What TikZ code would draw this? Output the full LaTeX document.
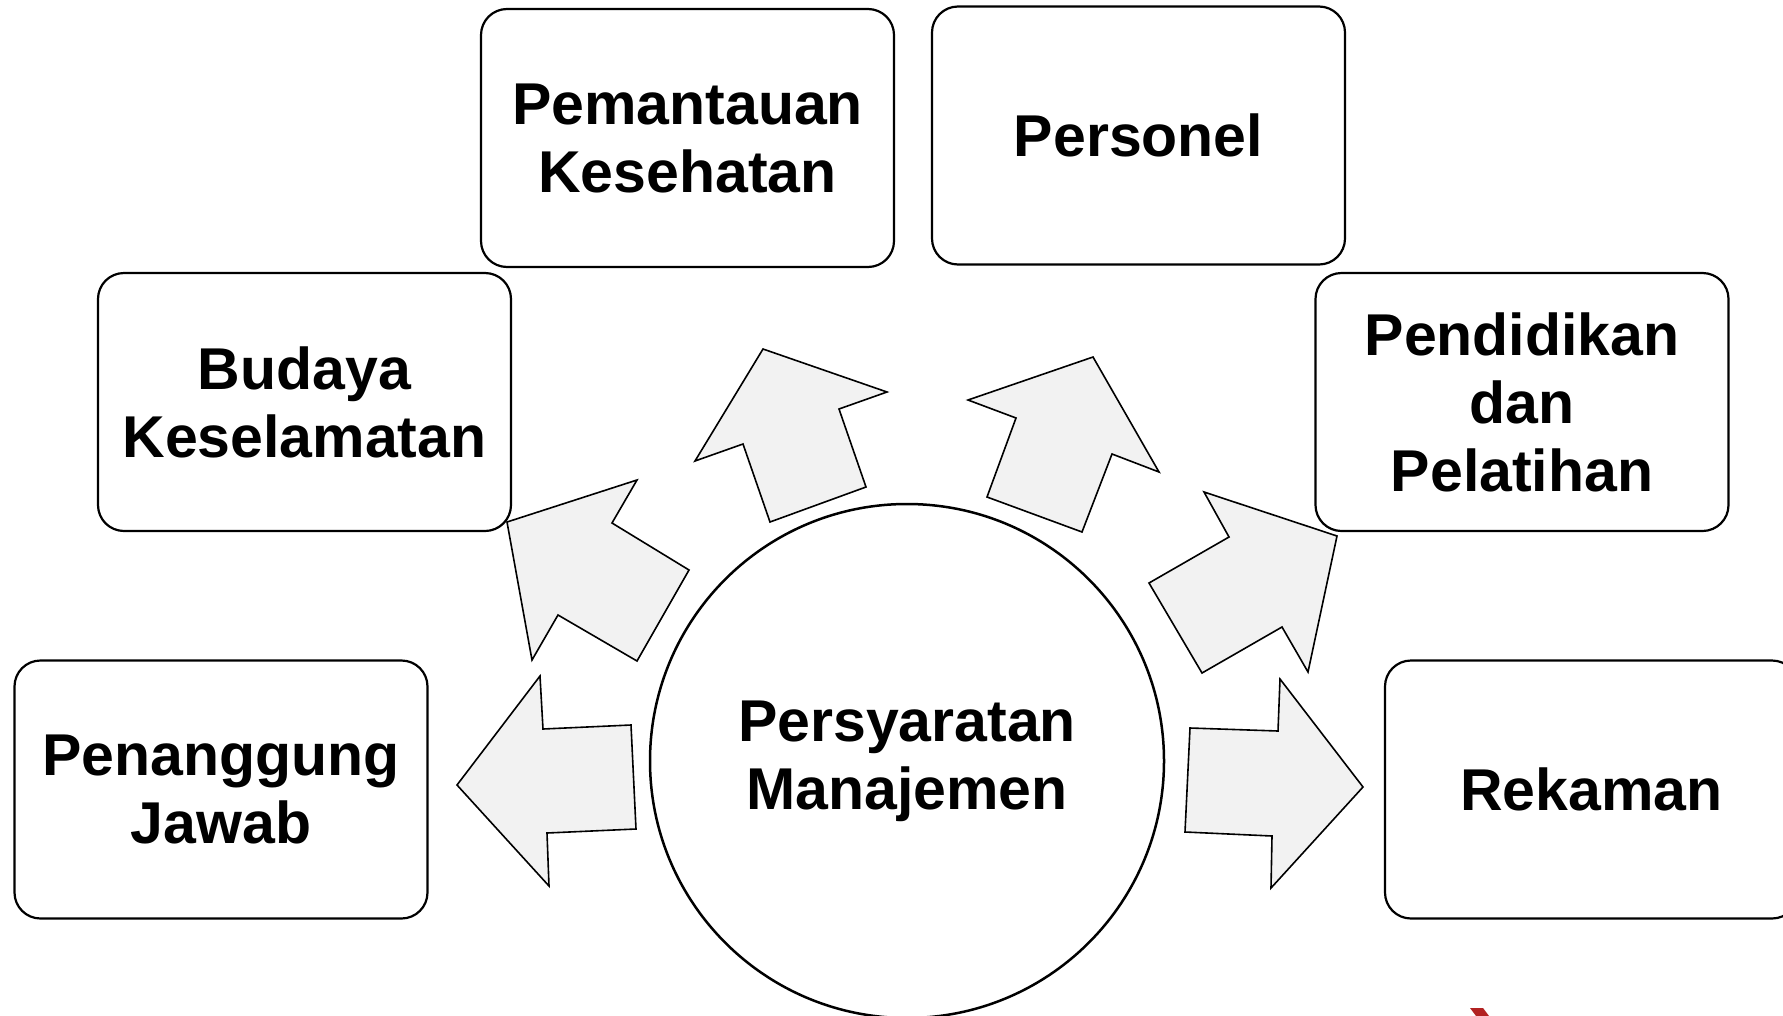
\documentclass[tikz,border=0pt]{standalone}
\usepackage{fontspec}
\setmainfont{Liberation Sans}
\definecolor{arrowgray}{HTML}{F2F2F2}
\definecolor{fragred}{HTML}{B22222}
\begin{document}
\begin{tikzpicture}[x=1pt,y=-1pt,
  box/.style={draw=black, line width=2.2pt, rounded corners=26pt, fill=white,
    minimum width=413pt, minimum height=258pt, align=center, inner sep=0pt,
    font=\bfseries\fontsize{59}{68}\selectfont},
  hub/.style={draw=black, line width=2.5pt, circle, fill=white, minimum size=514pt,
    inner sep=0pt, align=center, font=\bfseries\fontsize{59}{68}\selectfont},
  blockarrow/.style={draw=black, line width=1.6pt, fill=arrowgray, line join=miter}]
\useasboundingbox (0,0) rectangle (1783,1015);

\node[box] (pj) at (221,789.5) {Penanggung\\Jawab};
\node[box] (bk) at (304.5,402) {Budaya\\Keselamatan};
\node[box] (pk) at (687.5,138) {Pemantauan\\Kesehatan};
\node[box] (ps) at (1138.5,135.5) {Personel};
\node[box] (pp) at (1522,402) {Pendidikan\\dan\\Pelatihan};
\node[box] (rk) at (1591.5,789.5) {Rekaman};

\node[hub] (pm) at (907,761) {Persyaratan\\Manajemen};

% left arrow
\draw[blockarrow] (457,785) -- (540,676) -- (543,729) -- (631,725) -- (636,829)
  -- (547,833) -- (549,886) -- cycle;
% right arrow
\draw[blockarrow] (1363,787) -- (1280,679) -- (1278,731) -- (1190,728) -- (1185,832)
  -- (1272,836) -- (1271,888) -- cycle;
% upper-left arrow
\draw[blockarrow] (507,522) -- (637,480) -- (612,523) -- (689,570) -- (637,661)
  -- (558,615) -- (532,660) -- cycle;
% top-left arrow
\draw[blockarrow] (763,349) -- (887,392) -- (839,409) -- (866,487) -- (770,522)
  -- (743,444) -- (695,461) -- cycle;
% top-right arrow
\draw[blockarrow] (1093,357) -- (1159,472) -- (1112,454) -- (1082,532) -- (987,497)
  -- (1016,418) -- (968,400) -- cycle;
% upper-right arrow
\draw[blockarrow] (1337,536) -- (1204,492) -- (1229,537) -- (1149,583) -- (1202,673)
  -- (1282,627) -- (1308,672) -- cycle;

% red fragment at bottom edge
\fill[fragred] (1470,1008) -- (1483,1008) -- (1489,1016) -- (1476,1016) -- cycle;
\end{tikzpicture}
\end{document}
